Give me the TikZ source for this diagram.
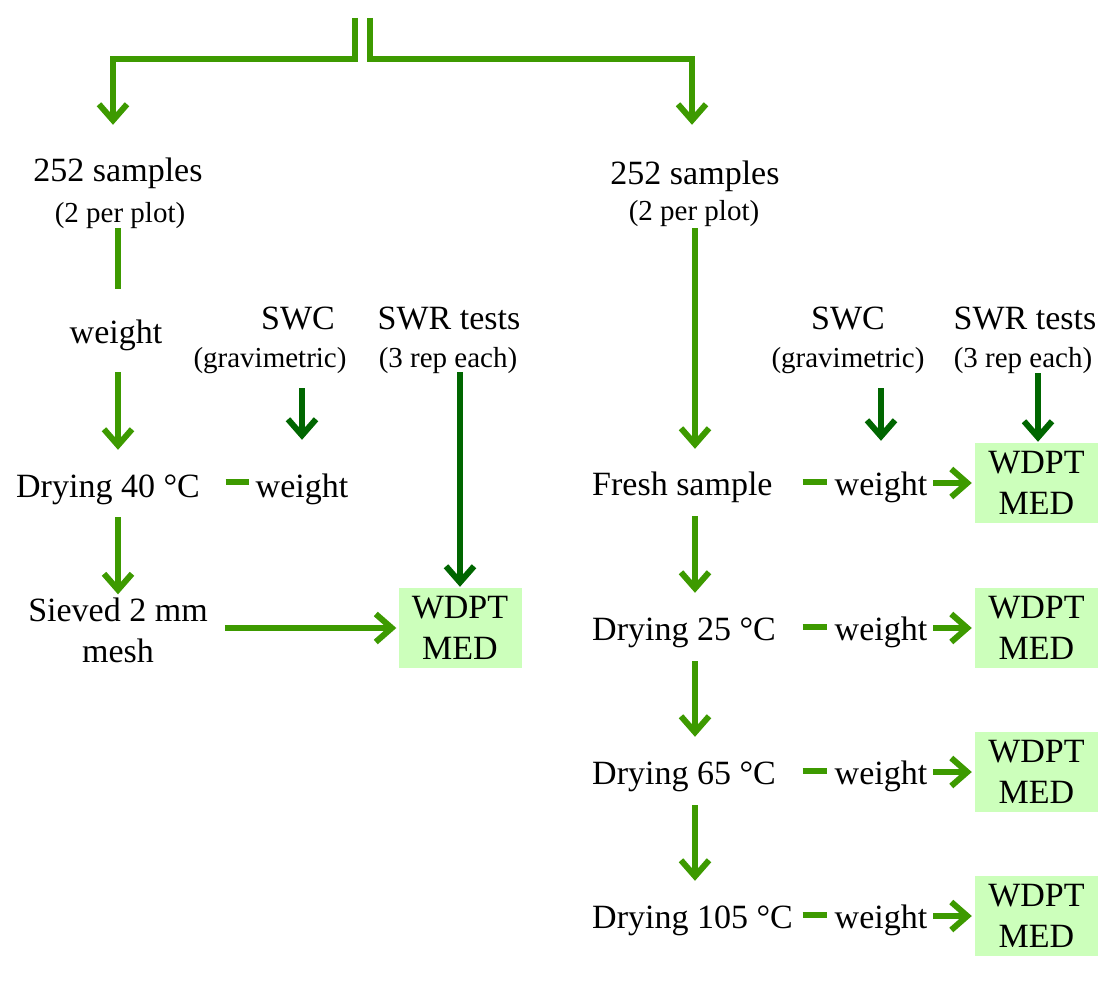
\documentclass[tikz,border=0pt]{standalone}
\usepackage{fontspec}
\setmainfont{Liberation Serif}
\usetikzlibrary{arrows.meta}
\definecolor{stem}{HTML}{3D9A00}
\definecolor{probe}{HTML}{006600}
\definecolor{assay}{HTML}{CCFFBB}

\begin{document}
\begin{tikzpicture}[x=1pt,y=-1pt,
  txt/.style={inner sep=0pt,text height=27pt,text depth=3pt,font=\fontsize{34}{41}\selectfont},
  sub/.style={inner sep=0pt,text height=23pt,text depth=3pt,font=\fontsize{29}{34}\selectfont},
  twoline/.style={inner sep=0pt,align=center,font=\fontsize{34}{41}\selectfont},
  test/.style={twoline,fill=assay,minimum width=123pt,minimum height=80pt},
  flow/.style={draw=stem,line width=6pt},
  go/.style={flow,-{Straight Barb[length=16pt,width=28pt,sharp]}},
  dgo/.style={go,draw=probe}]
\useasboundingbox (0,0) rectangle (1102,981);
\coordinate (lin) at (355,18); \coordinate (rin) at (370,18);
% left branch
\node[txt] (ls) at (118,170) {252 samples};
\node[sub] (lpp) at (120,213) {(2 per plot)};
\node[txt] (lw) at (116,331) {weight};
\node[txt] (lswc) at (298,318) {SWC}; \node[sub] (lgr) at (270,357) {(gravimetric)};
\node[txt] (lswr) at (449,318) {SWR tests}; \node[sub] (lre) at (448,357) {(3 rep each)};
\node[txt] (ld) at (108,485) {Drying 40 °C};
\node[txt] (lsw) at (302,485) {weight};
\node[twoline] (lsv) at (118,630) {Sieved 2 mm\\mesh};
\node[test] (lbox) at (460,628) {WDPT\\MED};
% right branch
\node[txt] (rs) at (695,173) {252 samples};
\node[sub] (rpp) at (694,211) {(2 per plot)};
\node[txt] (rswc) at (848,318) {SWC}; \node[sub] (rgr) at (848,357) {(gravimetric)};
\node[txt] (rswr) at (1025,318) {SWR tests}; \node[sub] (rre) at (1023,357) {(3 rep each)};
\node[txt,anchor=west] (rfr) at (592,483) {Fresh sample};
\node[txt,anchor=west] (rd25) at (592,628) {Drying 25 °C};
\node[txt,anchor=west] (rd65) at (592,772) {Drying 65 °C};
\node[txt,anchor=west] (rd105) at (592,916) {Drying 105 °C};
\node[txt] (rwfr) at (881,483) {weight}; \node[test] (rbfr) at (1036.5,483) {WDPT\\MED};
\node[txt] (rw25) at (881,628) {weight}; \node[test] (rb25) at (1036.5,628) {WDPT\\MED};
\node[txt] (rw65) at (881,772) {weight}; \node[test] (rb65) at (1036.5,772) {WDPT\\MED};
\node[txt] (rw105) at (881,916) {weight}; \node[test] (rb105) at (1036.5,916) {WDPT\\MED};
% split at the top
\draw[go,shorten >=30pt] (lin) -- ++(0,41) -| ([xshift=-5pt]ls.north);
\draw[go,shorten >=33pt] (rin) -- ++(0,41) -| ([xshift=-3pt]rs.north);
% left connectors
\draw[flow,shorten <=2pt,shorten >=27pt] (ls.south |- lpp.south) -- (ls.south |- lw.north);
\draw[go,shorten <=26pt,shorten >=20pt] (ls.south |- lw.south) -- (ls.south |- ld.north);
\draw[go,shorten <=17pt,shorten >=3pt] (ls.south |- ld.south) -- (ls.south |- lsv.north);
\draw[go,shorten <=17pt,shorten >=2pt] (lsv.east |- lbox.west) -- (lbox.west);
\draw[flow] ([xshift=-30pt,yshift=3pt]lsw.west) -- ([xshift=-7pt,yshift=3pt]lsw.west);
\draw[dgo,shorten <=18pt,shorten >=30pt] (lsw.north |- lgr.south) -- (lsw.north);
\draw[dgo,shorten <=2pt,shorten >=1pt] (lbox.north |- lre.south) -- (lbox.north);
% right connectors
\draw[go,shorten <=4pt,shorten >=19pt] (rs.south |- rpp.south) -- (rs.south |- rfr.north);
\draw[go,shorten <=18pt,shorten >=20pt] (rs.south |- rfr.south) -- (rs.south |- rd25.north);
\draw[go,shorten <=18pt,shorten >=20pt] (rs.south |- rd25.south) -- (rs.south |- rd65.north);
\draw[go,shorten <=18pt,shorten >=20pt] (rs.south |- rd65.south) -- (rs.south |- rd105.north);
\draw[flow] ([xshift=-32pt,yshift=1pt]rwfr.west) -- ([xshift=-8pt,yshift=1pt]rwfr.west);
\draw[flow] ([xshift=-32pt,yshift=1pt]rw25.west) -- ([xshift=-8pt,yshift=1pt]rw25.west);
\draw[flow] ([xshift=-32pt,yshift=1pt]rw65.west) -- ([xshift=-8pt,yshift=1pt]rw65.west);
\draw[flow] ([xshift=-32pt,yshift=1pt]rw105.west) -- ([xshift=-8pt,yshift=1pt]rw105.west);
\draw[go,shorten <=6pt,shorten >=3pt] (rwfr) -- (rbfr);
\draw[go,shorten <=6pt,shorten >=3pt] (rw25) -- (rb25);
\draw[go,shorten <=6pt,shorten >=3pt] (rw65) -- (rb65);
\draw[go,shorten <=6pt,shorten >=3pt] (rw105) -- (rb105);
\draw[dgo,shorten <=18pt,shorten >=27pt] (rwfr.north |- rgr.south) -- (rwfr.north);
\draw[dgo,shorten <=3pt,shorten >=1pt] ([xshift=1.5pt]rbfr.north |- rre.south) -- ([xshift=1.5pt]rbfr.north);
\end{tikzpicture}
\end{document}
